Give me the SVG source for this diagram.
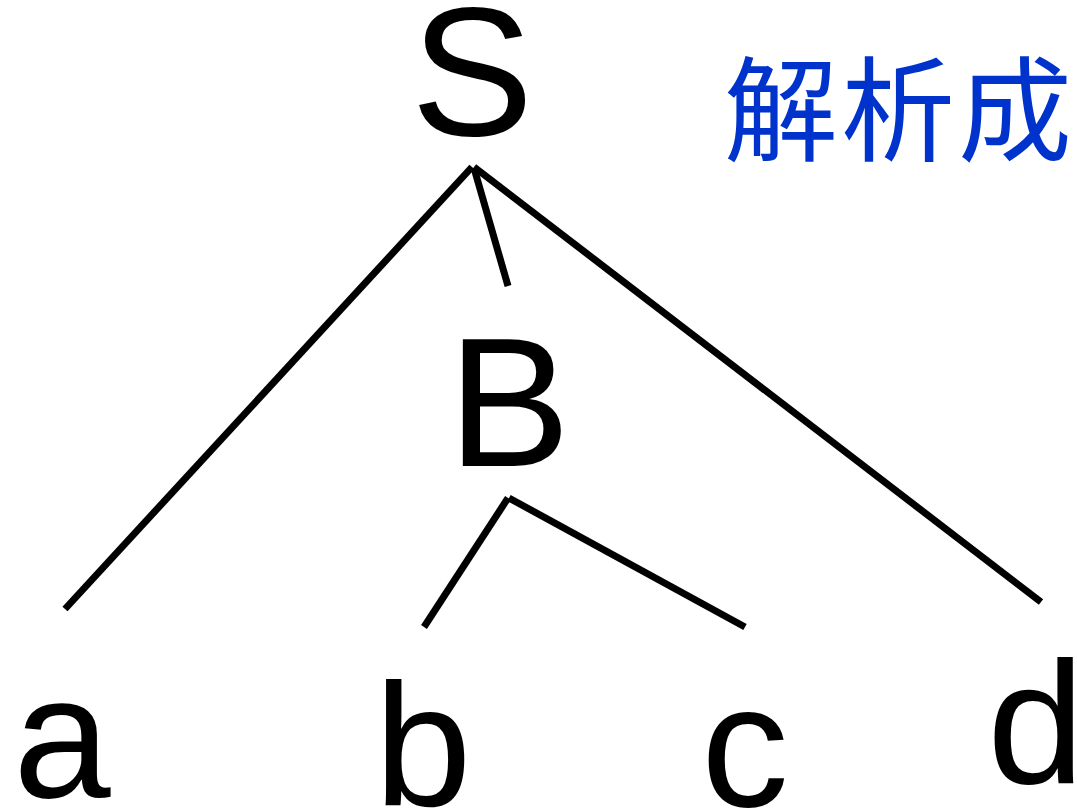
<svg xmlns="http://www.w3.org/2000/svg" width="1077" height="812" viewBox="0 0 1077 812">
<style>
.lbl{font-family:"Liberation Sans","Noto Sans",sans-serif;font-size:175px;fill:#000;text-anchor:middle}
.cap{font-size:184px}
.edge{stroke:#000;stroke-width:7;fill:none}
.title{font-family:"Noto Sans CJK SC","Noto Sans CJK JP",sans-serif;font-size:114px;fill:#0033cc;letter-spacing:3px}
</style>
<rect width="1077" height="812" fill="#fff"/>
<g id="connectors">
<line class="edge" x1="472" y1="167" x2="65" y2="609"/>
<line class="edge" x1="474" y1="168" x2="508" y2="286"/>
<line class="edge" x1="474" y1="167" x2="1041" y2="602"/>
<line class="edge" x1="508" y1="498" x2="424" y2="627"/>
<line class="edge" x1="509" y1="498" x2="745" y2="627"/>
</g>
<g id="node-S"><text class="lbl cap" x="472" y="135">S</text></g>
<g id="node-B"><text class="lbl cap" x="509" y="466">B</text></g>
<g id="node-a"><text class="lbl" x="62" y="797">a</text></g>
<g id="node-b"><text class="lbl" x="423" y="805">b</text></g>
<g id="node-c"><text class="lbl" x="745" y="806">c</text></g>
<g id="node-d"><text class="lbl" x="1036" y="783">d</text></g>
<g id="title"><text class="title" x="724" y="152">解析成</text></g>
</svg>
